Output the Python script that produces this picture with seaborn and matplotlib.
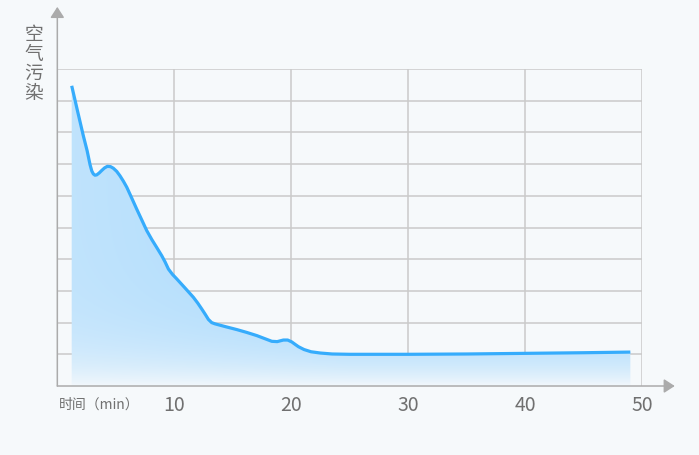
import numpy as np
import pandas as pd
import matplotlib
matplotlib.use("Agg")
import matplotlib.pyplot as plt
import seaborn as sns

# values (x in minutes, y in grid units)
time_min = [1.23, 1.7, 2.22, 2.55, 2.80, 2.95, 3.08, 3.22, 3.37, 3.58, 3.80, 4.04,
            4.28, 4.55, 4.79, 5.08, 5.36, 5.65, 5.94, 6.35, 6.79, 7.22, 7.65, 8.08,
            8.50, 8.93, 9.22, 9.50, 9.85, 10.21, 10.9, 11.63, 12.0, 12.35, 12.65,
            12.92, 13.2, 13.49, 14.4, 15.35, 16.2, 17.06, 17.7, 18.34, 18.8, 19.33,
            19.7, 20.05, 20.35, 20.62, 21.1, 21.7, 22.5, 23.5, 25.0, 27.5, 30.0,
            35.0, 40.0, 45.0, 49.0]
pollution = [9.47, 8.72, 7.90, 7.42, 6.98, 6.78, 6.69, 6.65, 6.66, 6.72, 6.80, 6.88,
             6.93, 6.92, 6.87, 6.77, 6.63, 6.46, 6.27, 5.94, 5.58, 5.24, 4.90, 4.62,
             4.37, 4.11, 3.91, 3.69, 3.52, 3.38, 3.10, 2.80, 2.62, 2.43, 2.26, 2.10,
             2.00, 1.96, 1.87, 1.78, 1.69, 1.59, 1.50, 1.41, 1.40, 1.45, 1.45, 1.39,
             1.31, 1.24, 1.15, 1.08, 1.04, 1.01, 1.00, 1.00, 1.00, 1.01, 1.03, 1.05,
             1.07]
x_ticks = [10, 20, 30, 40, 50]
y_label_chars = ["空", "气", "污", "染"]
x_label = "时间（min）"

df = pd.DataFrame({"time": time_min, "pollution": pollution})

bg = "#f6f9fb"
line_c = "#36acfc"
grid_c = "#cacaca"
axis_c = "#ababab"
text_c = "#707070"

sns.set_theme(style="white")
plt.rcParams["font.family"] = ["Noto Sans CJK SC", "DejaVu Sans"]

fig = plt.figure(figsize=(6.99, 4.56), dpi=100, facecolor=bg)
ax = fig.add_axes([0.082, 0.1513, 0.8365, 0.6952], facecolor=bg)
ax.set_xlim(0, 50)
ax.set_ylim(0, 10)

# gradient fill under the curve
fill = ax.fill_between(df["time"], df["pollution"], 0, color="none", lw=0)
gx, gy = np.meshgrid(np.linspace(0, 50, 300), np.linspace(0, 10, 300))
t = (1 - np.exp(-gy / 1.0)) * (0.68 + 0.32 * np.clip(gx / 25, 0, 1)) + 0.06
t = np.clip(t, 0, 1)[..., None]
top = np.array(matplotlib.colors.to_rgb("#aedcfd"))
base = np.array(matplotlib.colors.to_rgb(bg))
img = base + (top - base) * t
im = ax.imshow(img, extent=[0, 50, 0, 10], origin="lower", aspect="auto", zorder=1)
im.set_clip_path(fill.get_paths()[0], transform=ax.transData)

sns.lineplot(data=df, x="time", y="pollution", ax=ax, color=line_c, lw=2.3,
             zorder=4, solid_capstyle="butt", solid_joinstyle="round")

# grid
ax.set_xticks(x_ticks)
ax.set_yticks(range(1, 11))
ax.grid(True, color=grid_c, lw=1.1)
for line in ax.get_xgridlines() + ax.get_ygridlines():
    line.set_zorder(2)
for s in ax.spines.values():
    s.set_visible(False)

ax.set_xticklabels([str(v) for v in x_ticks], fontsize=14, color=text_c)
ax.set_yticklabels([])
ax.tick_params(axis="both", length=0)
ax.tick_params(axis="x", pad=6)
ax.set_xlabel("")
ax.set_ylabel("")

# axis lines with arrow heads
arrow = dict(arrowstyle="-|>,head_length=0.65,head_width=0.42", mutation_scale=10,
             color=axis_c, lw=1.1, shrinkA=0, shrinkB=0)
ax.annotate("", xy=(0, 1.196), xytext=(0, 0), xycoords="axes fraction",
            arrowprops=arrow, annotation_clip=False, zorder=5)
ax.annotate("", xy=(1.056, 0), xytext=(0, 0), xycoords="axes fraction",
            arrowprops=arrow, annotation_clip=False, zorder=5)

# labels
fig.text(34 / 699, 1 - 64 / 456, "\n".join(y_label_chars), ha="center", va="center",
         fontsize=13.5, color=text_c, linespacing=0.93)
fig.text(59 / 699, 1 - 405 / 456, x_label, ha="left", va="center",
         fontsize=10, color=text_c)

fig.savefig("out.png", dpi=100, facecolor=bg)
